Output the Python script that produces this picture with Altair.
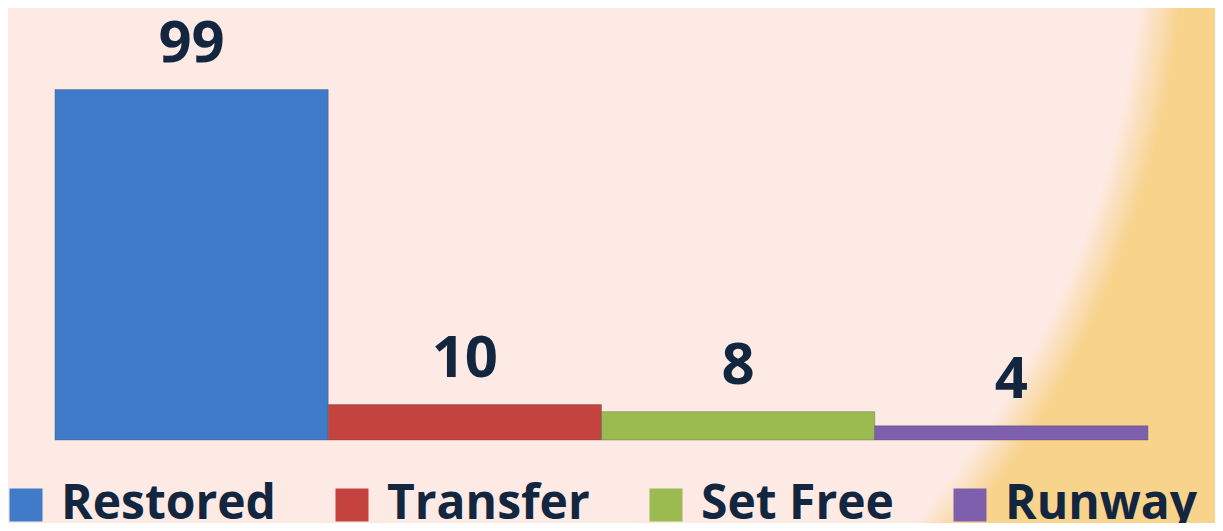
import altair as alt
import pandas as pd

categories = ["Restored", "Transfer", "Set Free", "Runway"]
values = [99, 10, 8, 4]
colors = ["#3f7bc9", "#c4433f", "#9bbb50", "#7e5fae"]

PINK = "#fdeae4"
YELLOW = "#f8d38c"
TEXT = "#13263f"
FONT = "Open Sans"

df = pd.DataFrame({"category": categories, "value": values})

xscale = alt.Scale(paddingInner=0, paddingOuter=0.2086, align=0.412)
yscale = alt.Scale(domain=[-23.45, 122.03], zero=False, nice=False)

bg = alt.Chart(pd.DataFrame({"a": [0]})).mark_rect(
    fill={
        "gradient": "radial",
        "x1": 0.1609, "y1": 0.2028, "r1": 0,
        "x2": 0.1609, "y2": 0.2028, "r2": 1.0,
        "stops": [
            {"offset": 0, "color": PINK},
            {"offset": 0.780, "color": PINK},
            {"offset": 0.815, "color": YELLOW},
            {"offset": 1, "color": YELLOW},
        ],
    }
).encode(x=alt.value(0), x2=alt.value("width"), y=alt.value(0), y2=alt.value("height"))

bars = alt.Chart(df).mark_bar(stroke="#4a4a4a", strokeWidth=0.6, strokeOpacity=0.6).encode(
    x=alt.X("category:N", sort=categories, scale=xscale, axis=None),
    y=alt.Y("value:Q", scale=yscale, axis=None),
    y2=alt.datum(0),
    color=alt.Color(
        "category:N",
        sort=categories,
        scale=alt.Scale(domain=categories, range=colors),
        legend=alt.Legend(
            title=None,
            orient="none",
            direction="horizontal",
            legendX=-6,
            legendY=473,
            symbolType="square",
            symbolSize=1089,
            symbolStrokeWidth=0,
            symbolOpacity=1,
            labelFont=FONT,
            labelFontSize=48,
            labelFontWeight="bold",
            labelColor=TEXT,
            labelOffset=11,
            columnPadding=52,
            labelLimit=400,
            padding=0,
        ),
    ),
)

labels = alt.Chart(df).mark_text(
    dy=-28, baseline="alphabetic", align="center",
    font=FONT, fontSize=58, fontWeight="bold", color=TEXT,
).encode(
    x=alt.X("category:N", sort=categories, scale=xscale, axis=None),
    y=alt.Y("value:Q", scale=yscale, axis=None),
    text="value:Q",
)

chart = alt.layer(bg, bars, labels).properties(
    width=1207, height=515,
    autosize=alt.AutoSizeParams(type="none"),
    padding=0,
    background=PINK,
).configure_view(stroke=None)

chart.save("out.html", embed_options={"renderer": "svg", "actions": False})
